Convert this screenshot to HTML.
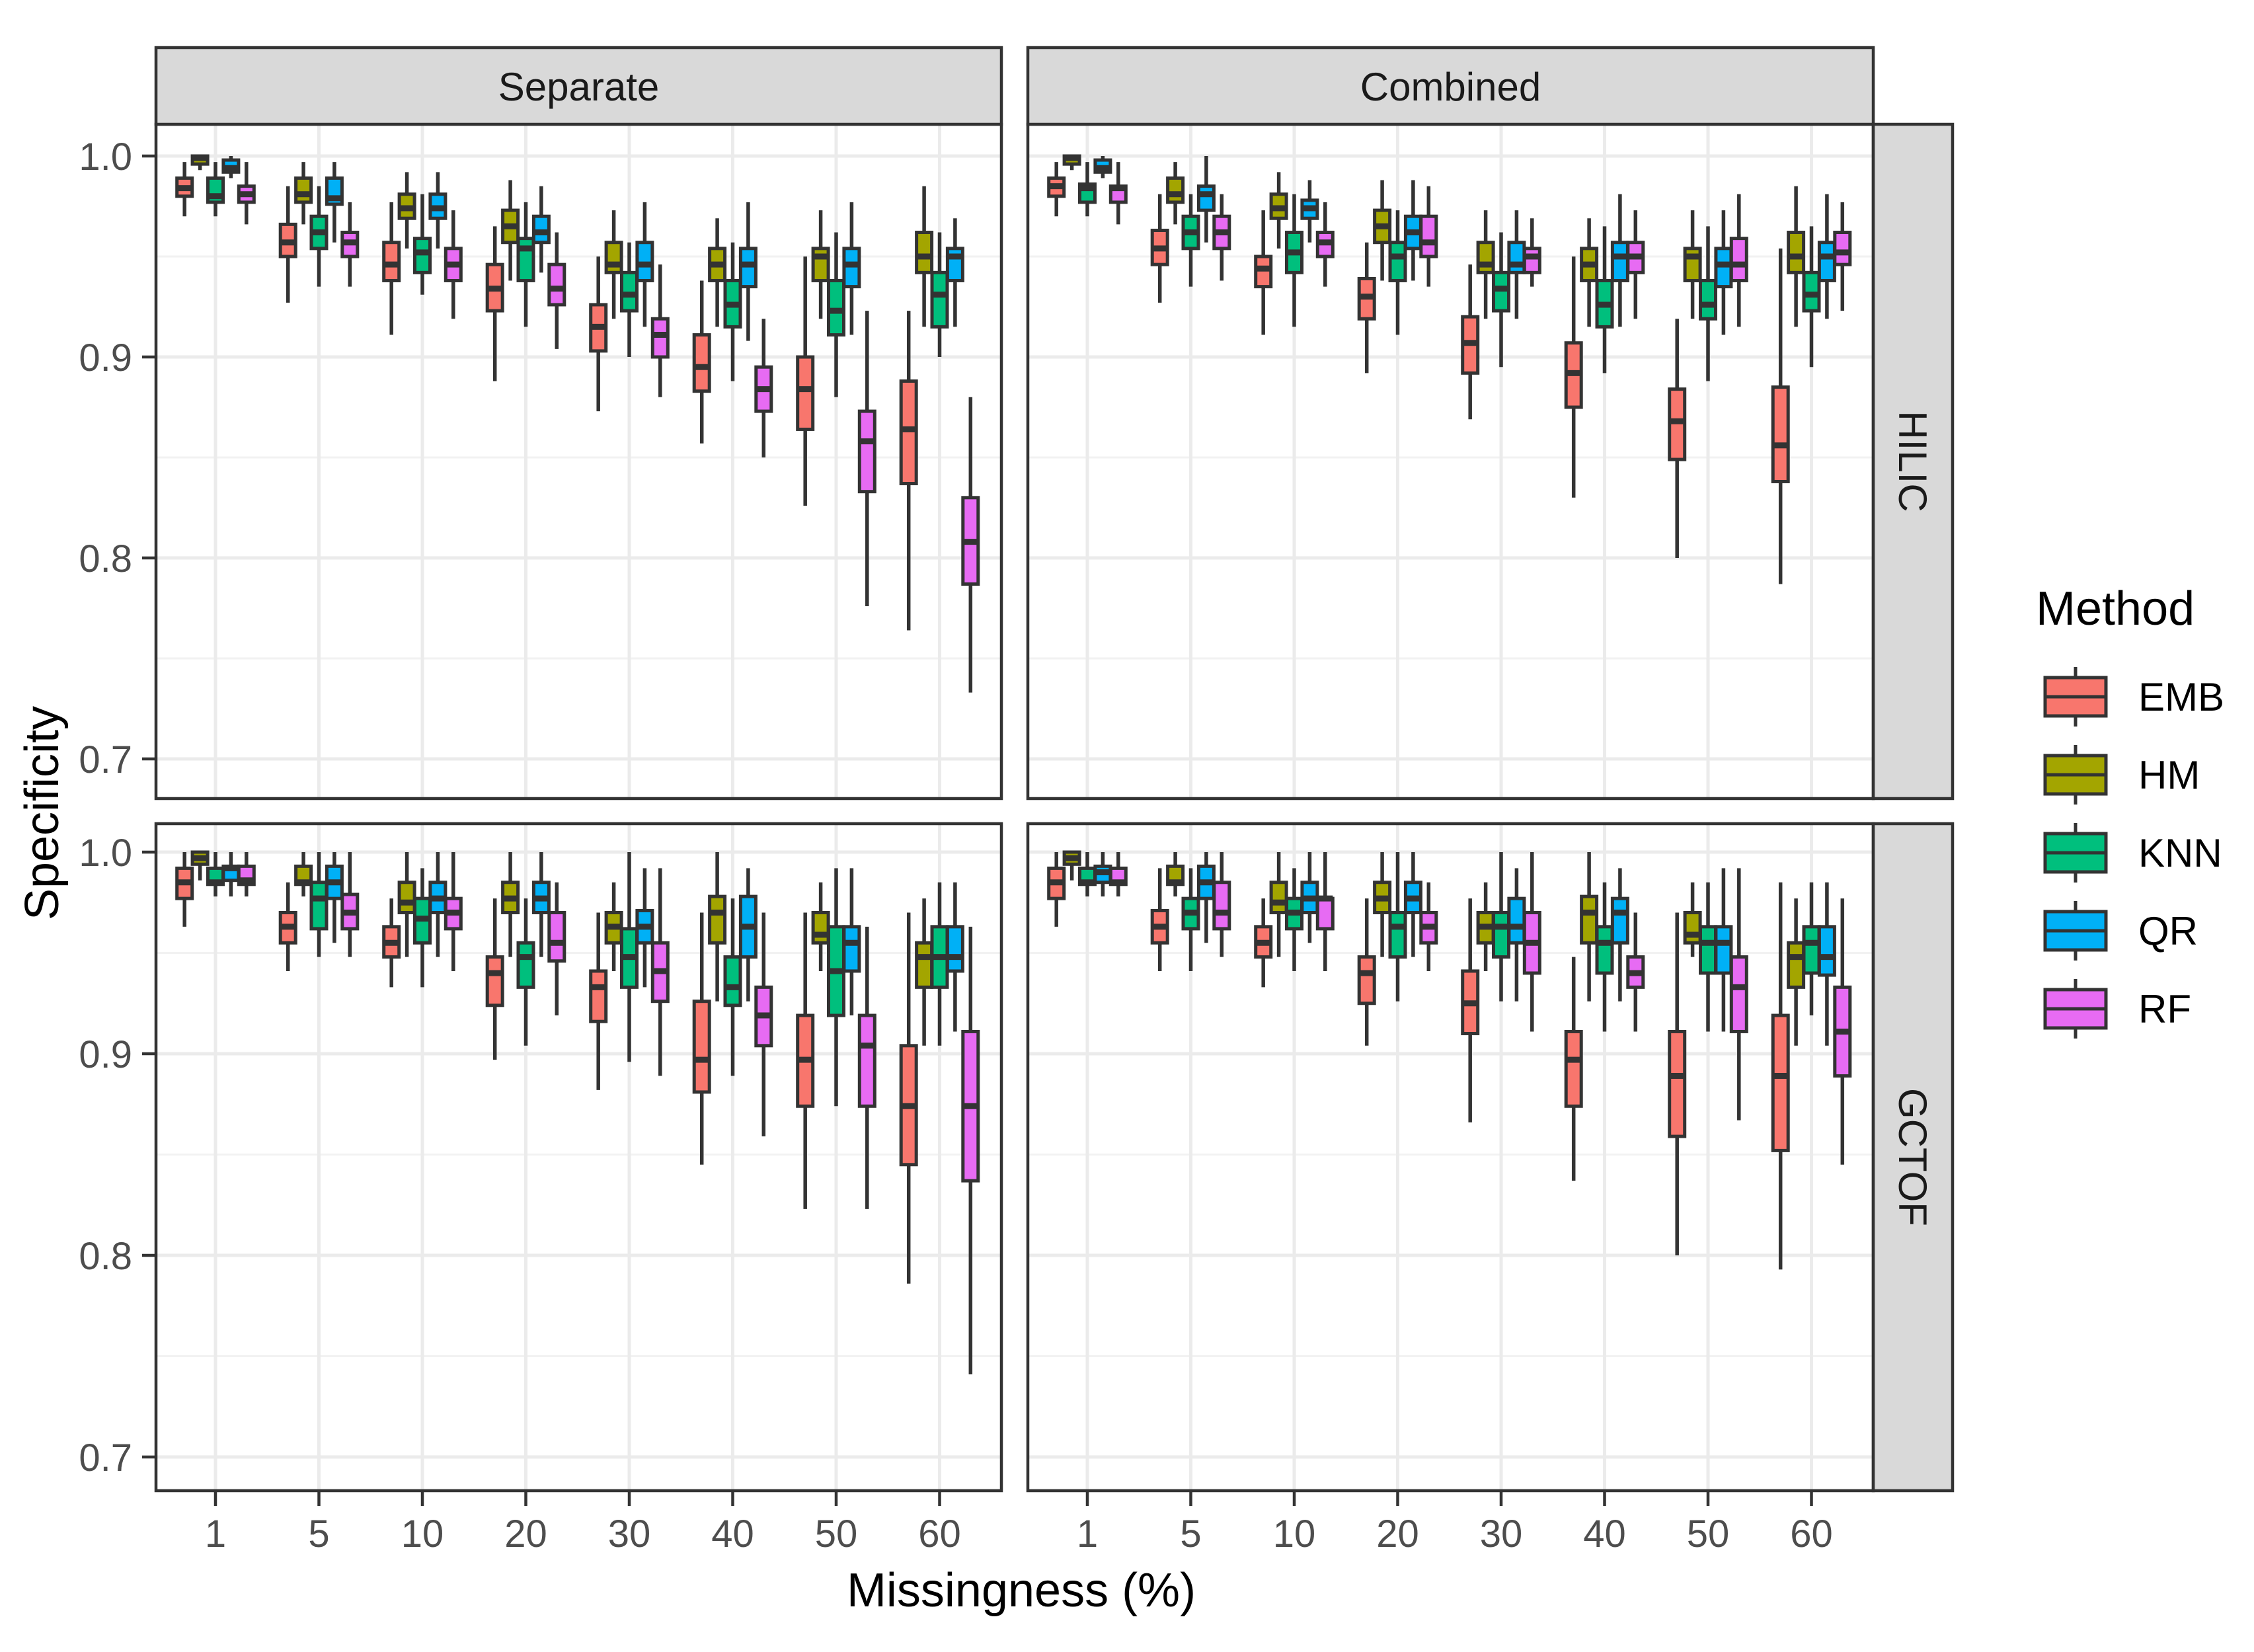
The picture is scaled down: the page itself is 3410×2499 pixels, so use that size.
<!DOCTYPE html>
<html><head><meta charset="utf-8"><style>
html,body{margin:0;padding:0;background:#fff;}
svg{display:block;}
text{font-family:"Liberation Sans",Arial,sans-serif;}
</style></head><body>
<svg id="chart" width="3410" height="2499" viewBox="0 0 3410 2499" xmlns="http://www.w3.org/2000/svg">
<rect x="0" y="0" width="3410" height="2499" fill="#fff"/>
<g id="layer"></g>
</svg>
<script>
const categories = ["1","5","10","20","30","40","50","60"];
const methods = ["EMB","HM","KNN","QR","RF"];
const colors = ["#F8766D","#A3A500","#00BF7D","#00B0F6","#E76BF3"];
const yTicks = [0.7,0.8,0.9,1.0];
const yTickLabels = ["0.7","0.8","0.9","1.0"];
const yMinor = [0.75,0.85,0.95];
const columnLabels = ["Separate","Combined"];
const rowLabels = ["HILIC","GCTOF"];
// each stat: [lowWhisker, q1, median, q3, highWhisker]
const sepHilicEMB = [[.970,.980,.984,.989,.997],[.927,.950,.957,.966,.985],[.911,.938,.946,.957,.977],[.888,.923,.934,.946,.965],[.873,.903,.915,.926,.950],[.857,.883,.895,.911,.938],[.826,.864,.884,.900,.950],[.764,.837,.864,.888,.923]];
const sepHilicHM = [[.993,.996,.999,1.0,1.0],[.966,.977,.981,.989,.997],[.954,.969,.974,.981,.992],[.938,.957,.965,.973,.988],[.919,.942,.946,.957,.973],[.915,.938,.946,.954,.969],[.919,.938,.950,.954,.973],[.915,.942,.950,.962,.985]];
const sepHilicKNN = [[.970,.977,.980,.989,.997],[.935,.954,.962,.970,.985],[.931,.942,.952,.959,.981],[.915,.938,.954,.959,.977],[.900,.923,.931,.942,.957],[.888,.915,.926,.938,.957],[.880,.911,.923,.938,.962],[.900,.915,.931,.942,.962]];
const sepHilicQR = [[.989,.992,.994,.998,1.0],[.957,.976,.979,.989,.997],[.954,.969,.974,.981,.992],[.942,.957,.962,.970,.985],[.915,.938,.946,.957,.977],[.908,.935,.946,.954,.977],[.911,.935,.946,.954,.977],[.915,.938,.950,.954,.969]];
const sepHilicRF = [[.966,.977,.981,.985,.997],[.935,.950,.957,.962,.977],[.919,.938,.946,.954,.973],[.904,.926,.934,.946,.962],[.880,.900,.911,.919,.946],[.850,.873,.884,.895,.919],[.776,.833,.858,.873,.923],[.733,.787,.808,.830,.880]];
const comHilicEMB = [[.970,.980,.985,.989,.997],[.927,.946,.954,.963,.981],[.911,.935,.944,.950,.973],[.892,.919,.930,.939,.957],[.869,.892,.907,.920,.946],[.830,.875,.892,.907,.950],[.800,.849,.868,.884,.919],[.787,.838,.856,.885,.954]];
const comHilicHM = [[.993,.996,.999,1.0,1.0],[.966,.977,.981,.989,.997],[.954,.969,.974,.981,.992],[.938,.957,.965,.973,.988],[.919,.942,.946,.957,.973],[.915,.938,.946,.954,.969],[.919,.938,.950,.954,.973],[.915,.942,.950,.962,.985]];
const comHilicKNN = [[.970,.977,.984,.986,.997],[.935,.954,.962,.970,.981],[.915,.942,.952,.962,.981],[.911,.938,.950,.957,.973],[.895,.923,.934,.942,.962],[.892,.915,.926,.938,.965],[.888,.919,.926,.938,.965],[.895,.923,.931,.942,.965]];
const comHilicQR = [[.989,.992,.994,.998,1.0],[.957,.973,.981,.985,1.0],[.957,.969,.974,.978,.988],[.938,.954,.962,.970,.988],[.919,.942,.946,.957,.973],[.915,.938,.950,.957,.981],[.911,.935,.946,.954,.973],[.919,.938,.950,.957,.981]];
const comHilicRF = [[.966,.977,.984,.985,.997],[.938,.954,.962,.970,.981],[.935,.950,.957,.962,.977],[.935,.950,.957,.970,.985],[.935,.942,.950,.954,.969],[.919,.942,.950,.957,.973],[.915,.938,.946,.959,.981],[.923,.946,.952,.962,.977]];
const sepGctofEMB = [[.963,.977,.985,.992,1.0],[.941,.955,.963,.970,.985],[.933,.948,.955,.963,.977],[.897,.924,.940,.948,.977],[.882,.916,.933,.941,.970],[.845,.881,.897,.926,.970],[.823,.874,.897,.919,.970],[.786,.845,.874,.904,.970]];
const sepGctofHM = [[.986,.994,.997,1.0,1.0],[.978,.984,.985,.993,1.0],[.948,.970,.975,.985,1.0],[.948,.970,.977,.985,1.0],[.941,.955,.963,.970,.985],[.926,.955,.970,.978,1.0],[.941,.955,.959,.970,.985],[.904,.933,.948,.955,.977]];
const sepGctofKNN = [[.978,.984,.985,.992,1.0],[.948,.962,.977,.985,1.0],[.933,.955,.967,.977,.992],[.904,.933,.948,.955,.977],[.896,.933,.948,.962,1.0],[.889,.924,.933,.948,.977],[.874,.919,.941,.963,.992],[.904,.933,.948,.963,.985]];
const sepGctofQR = [[.978,.986,.992,.993,1.0],[.955,.977,.985,.993,1.0],[.948,.970,.977,.985,1.0],[.948,.970,.977,.985,1.0],[.933,.955,.963,.971,.992],[.926,.948,.963,.978,.992],[.919,.941,.955,.963,.992],[.911,.941,.948,.963,.985]];
const sepGctofRF = [[.978,.984,.986,.993,1.0],[.948,.962,.970,.979,1.0],[.941,.962,.970,.977,1.0],[.919,.946,.955,.970,.985],[.889,.926,.941,.955,.992],[.859,.904,.919,.933,.970],[.823,.874,.904,.919,.963],[.741,.837,.874,.911,.963]];
const comGctofEMB = [[.963,.977,.985,.992,1.0],[.941,.955,.963,.971,.992],[.933,.948,.955,.963,.977],[.904,.925,.940,.948,.977],[.866,.910,.925,.941,.977],[.837,.874,.897,.911,.948],[.800,.859,.889,.911,.970],[.793,.852,.889,.919,.985]];
const comGctofHM = [[.986,.994,.997,1.0,1.0],[.978,.984,.985,.993,1.0],[.948,.970,.975,.985,1.0],[.948,.970,.977,.985,1.0],[.941,.955,.963,.970,.985],[.926,.955,.970,.978,1.0],[.948,.955,.959,.970,.985],[.904,.933,.948,.955,.977]];
const comGctofKNN = [[.978,.984,.985,.992,1.0],[.941,.962,.970,.977,.992],[.941,.962,.970,.977,.992],[.926,.948,.963,.970,1.0],[.926,.948,.963,.970,1.0],[.911,.940,.955,.963,.985],[.911,.940,.955,.963,.985],[.919,.940,.955,.963,.985]];
const comGctofQR = [[.978,.985,.990,.993,1.0],[.955,.977,.985,.993,1.0],[.955,.970,.977,.985,1.0],[.948,.970,.977,.985,1.0],[.926,.955,.963,.977,.992],[.926,.955,.970,.977,.992],[.911,.940,.955,.963,.992],[.904,.939,.948,.963,.985]];
const comGctofRF = [[.978,.984,.985,.992,1.0],[.948,.962,.970,.985,1.0],[.941,.962,.977,.977,1.0],[.941,.955,.963,.970,.985],[.911,.940,.955,.970,1.0],[.911,.933,.940,.948,.970],[.867,.911,.933,.948,.992],[.845,.889,.911,.933,.977]];

const panelData = [
  [[sepHilicEMB,sepHilicHM,sepHilicKNN,sepHilicQR,sepHilicRF],[comHilicEMB,comHilicHM,comHilicKNN,comHilicQR,comHilicRF]],
  [[sepGctofEMB,sepGctofHM,sepGctofKNN,sepGctofQR,sepGctofRF],[comGctofEMB,comGctofHM,comGctofKNN,comGctofQR,comGctofRF]]
];

const NS = "http://www.w3.org/2000/svg";
const layer = document.getElementById("layer");
function mk(tag, attrs, parent, txt){
  const e = document.createElementNS(NS, tag);
  for (const k in attrs) e.setAttribute(k, attrs[k]);
  if (txt !== undefined) e.textContent = txt;
  (parent || layer).appendChild(e);
  return e;
}
const colX = [236, 1555];
const panelW = 1279;
const rowTop = [188, 1246];
const rowBot = [1208, 2255];
const rowY1 = [236, 1289];
const rowScale = [3040, 3050];
function xScale(col, i){ return colX[col] + 90 + i * 156.5; }
function yScale(row, v){ return rowY1[row] + (1 - v) * rowScale[row]; }
const dodge = 23.4, boxW = 23;

for (let r = 0; r < 2; r++){
  for (let c = 0; c < 2; c++){
    const g = mk("g", {});
    
    
    const L = colX[c], T = rowTop[r], B = rowBot[r];
    yMinor.forEach(v => {
      const ln = mk("line", {x1:L, x2:L+panelW, y1:yScale(r,v), y2:yScale(r,v), stroke:"#f2f2f2", "stroke-width":3}, g);
      
      
    });
    yTicks.forEach(v => {
      const ln = mk("line", {x1:L, x2:L+panelW, y1:yScale(r,v), y2:yScale(r,v), stroke:"#ebebeb", "stroke-width":5}, g);
      
      
    });
    categories.forEach((cat, i) => {
      const ln = mk("line", {x1:xScale(c,i), x2:xScale(c,i), y1:T, y2:B, stroke:"#ebebeb", "stroke-width":5}, g);
      
      
    });
    const pd = panelData[r][c];
    for (let m = 0; m < methods.length; m++){
      for (let i = 0; i < categories.length; i++){
        const s = pd[m][i];
        const cx = xScale(c, i) + (m - 2) * dodge;
        const bg = mk("g", {}, g);
        
        
        mk("line", {x1:cx, x2:cx, y1:yScale(r,s[4]), y2:yScale(r,s[0]), stroke:"#333", "stroke-width":5.5}, bg);
        const yq3 = yScale(r,s[3]), yq1 = yScale(r,s[1]);
        mk("rect", {x:cx-boxW/2, y:yq3, width:boxW, height:Math.max(yq1-yq3,1), fill:colors[m], stroke:"#333", "stroke-width":5}, bg);
        mk("line", {x1:cx-boxW/2, x2:cx+boxW/2, y1:yScale(r,s[2]), y2:yScale(r,s[2]), stroke:"#333", "stroke-width":9}, bg);
      }
    }
    const bd = mk("rect", {x:L, y:T, width:panelW, height:B-T, fill:"none", stroke:"#333", "stroke-width":4.5}, g);
    
    
  }
}
columnLabels.forEach((lab, c) => {
  const g = mk("g", {});
  
  
  mk("rect", {x:colX[c], y:72, width:panelW, height:116, fill:"#d9d9d9", stroke:"#333", "stroke-width":4.5}, g);
  mk("text", {x:colX[c]+panelW/2, y:152, "font-size":60, fill:"#1a1a1a", "text-anchor":"middle"}, g, lab);
});
rowLabels.forEach((lab, r) => {
  const g = mk("g", {});
  
  
  mk("rect", {x:2834, y:rowTop[r], width:120, height:rowBot[r]-rowTop[r], fill:"#d9d9d9", stroke:"#333", "stroke-width":4.5}, g);
  const cy = (rowTop[r]+rowBot[r])/2;
  mk("text", {x:2873, y:cy, "font-size":60, fill:"#1a1a1a", "text-anchor":"middle", transform:"rotate(90 2873 "+cy+")"}, g, lab);
});
for (let r = 0; r < 2; r++){
  yTicks.forEach((v, k) => {
    const y = yScale(r, v);
    const t = mk("line", {x1:215, x2:236, y1:y, y2:y, stroke:"#333", "stroke-width":4.5});
    
    
    const tx = mk("text", {x:200, y:y+21, "font-size":58, fill:"#4d4d4d", "text-anchor":"end"}, layer, yTickLabels[k]);
    
    
  });
}
for (let c = 0; c < 2; c++){
  categories.forEach((cat, i) => {
    const x = xScale(c, i);
    const t = mk("line", {x1:x, x2:x, y1:2255, y2:2278, stroke:"#333", "stroke-width":4.5});
    
    
    const tx = mk("text", {x:x, y:2340, "font-size":58, fill:"#4d4d4d", "text-anchor":"middle"}, layer, cat);
    
    
  });
}
const xt = mk("text", {x:1545, y:2430, "font-size":72, fill:"#000", "text-anchor":"middle"}, layer, "Missingness (%)");


const yt = mk("text", {x:88, y:1230, "font-size":72, fill:"#000", "text-anchor":"middle", transform:"rotate(-90 88 1230)"}, layer, "Specificity");


const lg = mk("g", {});


mk("text", {x:3080, y:945, "font-size":72, fill:"#000"}, lg, "Method");
methods.forEach((m, k) => {
  const cy = 1054 + k * 118;
  const e = mk("g", {}, lg);
  
  
  mk("line", {x1:3140, x2:3140, y1:cy-45, y2:cy+45, stroke:"#333", "stroke-width":5}, e);
  mk("rect", {x:3094, y:cy-29, width:92, height:58, fill:colors[k], stroke:"#333", "stroke-width":5}, e);
  mk("line", {x1:3094, x2:3186, y1:cy, y2:cy, stroke:"#333", "stroke-width":5}, e);
  mk("text", {x:3235, y:cy+21, "font-size":60, fill:"#000"}, e, m);
});
</script>
</body></html>
